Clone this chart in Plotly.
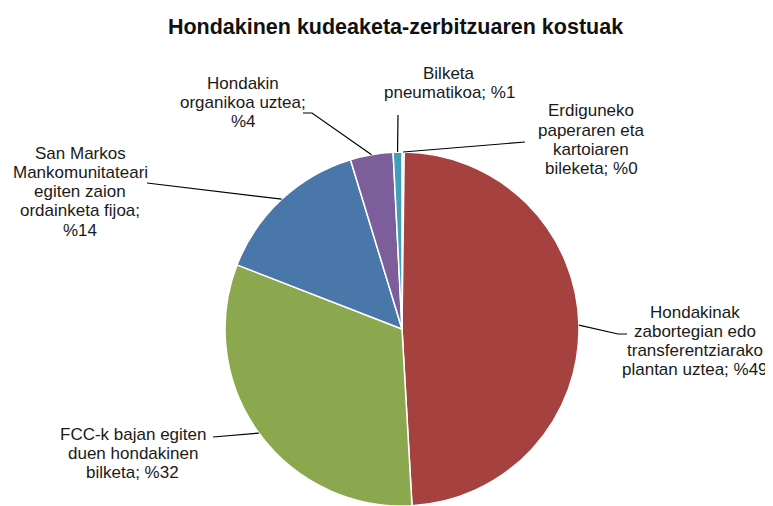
import textwrap
import numpy as np
import plotly.graph_objects as go

# Data
categories = [
    "Erdiguneko paperaren eta kartoiaren bileketa",
    "Hondakinak zabortegian edo transferentziarako plantan uztea",
    "FCC-k bajan egiten duen hondakinen bilketa",
    "San Markos Mankomunitateari egiten zaion ordainketa fijoa",
    "Hondakin organikoa uztea",
    "Bilketa pneumatikoa",
]
shares = [0.2, 48.9, 31.8, 14.4, 3.9, 0.8]
colors = ["#F79646", "#A5423F", "#8BA84F", "#4A77AA", "#7B5E9A", "#3F9EB8"]
title_text = "Hondakinen kudeaketa-zerbitzuaren kostuak"

W, H = 773, 506
OFF = 8  # page body margin, positions below are given in window pixels
FONT = "Liberation Sans, Arial, sans-serif"

# pie placement (window pixels)
cx, cy, r = 402, 329, 177

# label layout: wrap width, centre x, first line y, leader line path (elbow points)
label_layout = [
    dict(wrap=13, x=591, y=111, path=[(525, 142)]),
    dict(wrap=18, x=695, y=312, path=[(618, 334), (627, 334)]),
    dict(wrap=18, x=133, y=434, path=[(213, 437)]),
    dict(wrap=17, x=80, y=153, path=[(147, 183)]),
    dict(wrap=16, x=243, y=83, path=[(312, 113), (303, 113)]),
    dict(wrap=15, x=449, y=73, path=[(398, 115)]),
]
LINE_H = 19.3


def px(x, y):
    return (x - OFF) / W, 1 - (y - OFF) / H


x0, y1 = px(cx - r, cy - r)
x1, y0 = px(cx + r, cy + r)

fig = go.Figure(go.Pie(
    labels=categories,
    values=shares,
    sort=False,
    direction="clockwise",
    rotation=0,
    marker=dict(colors=colors, line=dict(color="white", width=1.5)),
    textinfo="none",
    hoverinfo="label+percent",
    showlegend=False,
    domain=dict(x=[x0, x1], y=[y0, y1]),
))

annotations = []
shapes = []
total = sum(shares)
cum = np.cumsum([0] + shares)
for i, (name, v) in enumerate(zip(categories, shares)):
    lay = label_layout[i]
    full = f"{name}; %{round(v / total * 100):.0f}"
    lines = textwrap.wrap(full, width=lay["wrap"], break_on_hyphens=False)
    for k, line in enumerate(lines):
        ax, ay = px(lay["x"], lay["y"] + k * LINE_H)
        annotations.append(dict(
            x=ax, y=ay, xref="paper", yref="paper", text=line,
            showarrow=False, xanchor="center", yanchor="middle",
            font=dict(family=FONT, size=17, color="#1a1a1a"),
        ))
    # leader line from slice edge
    mid = (cum[i] + v / 2) / total * 2 * np.pi
    ex, ey = cx + r * np.sin(mid), cy - r * np.cos(mid)
    pts = [(ex, ey)] + lay["path"]
    d = "M " + " L ".join(f"{px(a, b)[0]:.5f},{px(a, b)[1]:.5f}" for a, b in pts)
    shapes.append(dict(type="path", path=d, xref="paper", yref="paper",
                       line=dict(color="black", width=1.2)))

tx, ty = px(395.5, 26)
fig.update_layout(
    width=W, height=H,
    margin=dict(l=0, r=0, t=0, b=0),
    paper_bgcolor="white",
    plot_bgcolor="white",
    title=dict(text="<b>" + title_text + "</b>", x=tx, xanchor="center",
               y=ty, yanchor="middle",
               font=dict(family=FONT, size=21.5, color="#111")),
    annotations=annotations,
    shapes=shapes,
)

fig.write_html("out.html")
